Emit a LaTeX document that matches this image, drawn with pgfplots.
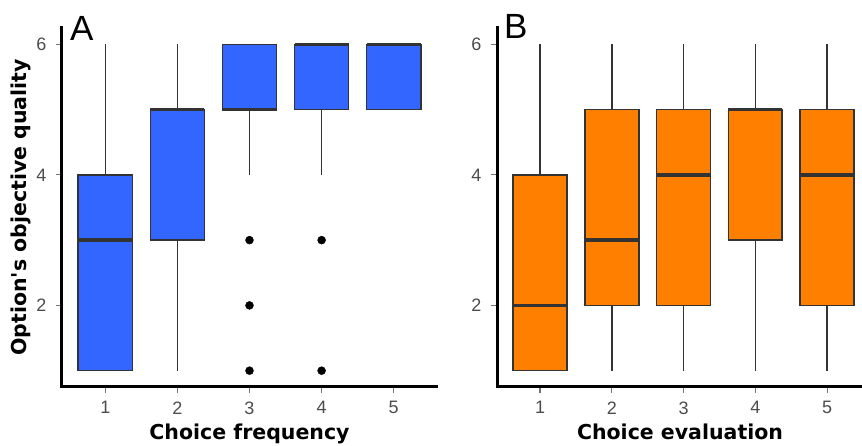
\documentclass[border=0pt]{standalone}
\usepackage{pgfplots}
\pgfplotsset{compat=1.18}
\usepgfplotslibrary{statistics}
\usepackage{fontspec}
\setmainfont{Liberation Sans}
\newfontfamily\djv{DejaVu Sans}
\definecolor{myblue}{HTML}{3366FF}
\definecolor{myorange}{HTML}{FF7F00}
\definecolor{boxgray}{HTML}{333333}
\newcommand{\ticksfont}{\fontsize{18}{20}\selectfont}
\newcommand{\titlefont}{\djv\bfseries\fontsize{20.5}{24}\selectfont}
\pgfplotsset{
  panel/.style={
    scale only axis, height=359pt,
    ymin=0.75, ymax=6.25, xmin=0.4,
    axis x line*=bottom, axis y line*=left,
    axis line style={-, line width=3pt, line cap=rect, black},
    xtick={1,2,3,4,5}, ytick={2,4,6},
    tick align=outside, major tick length=6pt,
    tick style={black!55, line width=1.2pt},
    xticklabel style={font=\ticksfont, text=black!70, yshift=-5pt},
    yticklabel style={font=\ticksfont, text=black!70, xshift=-6pt},
    /pgf/number format/assume math mode=true,
    xlabel style={font=\titlefont, at={(axis description cs:0.5,0)}, anchor=base, yshift=-53pt},
    ylabel style={font=\titlefont, at={(axis description cs:0,0.5)}, anchor=base, yshift=35pt},
    boxplot/draw direction=y,
    boxplot/box extend=0.75,
    boxplot/whisker extend=0,
    boxplot/every box/.style={line width=1.6pt},
    boxplot/every whisker/.style={line width=1.5pt},
    boxplot/every median/.style={line width=3.5pt},
  },
  bx/.style={line width=1.5pt, draw=boxgray, fill=#1},
}
\begin{document}
\begin{tikzpicture}
\useasboundingbox (-62pt,-59pt) rectangle (800pt,387pt);
\begin{axis}[panel, at={(0pt,0pt)}, anchor=south west, width=375pt, xmax=5.6,
  xlabel={Choice frequency}, ylabel={Option's objective quality}]
\addplot[bx=myblue, boxplot prepared={draw position=1, median=3, lower quartile=1, upper quartile=4, lower whisker=1, upper whisker=6}] coordinates {};
\addplot[bx=myblue, boxplot prepared={draw position=2, median=5, lower quartile=3, upper quartile=5, lower whisker=1, upper whisker=6}] coordinates {};
\addplot[bx=myblue, boxplot prepared={draw position=3, median=5, lower quartile=5, upper quartile=6, lower whisker=4, upper whisker=6}] coordinates {};
\addplot[bx=myblue, boxplot prepared={draw position=4, median=6, lower quartile=5, upper quartile=6, lower whisker=4, upper whisker=6}] coordinates {};
\addplot[bx=myblue, boxplot prepared={draw position=5, median=6, lower quartile=5, upper quartile=6, lower whisker=5, upper whisker=6}] coordinates {};
\addplot[only marks, mark=*, mark size=4pt, black] coordinates {(3,3) (3,2) (3,1) (4,3) (4,1)};
\end{axis}
\begin{axis}[panel, at={(435pt,0pt)}, anchor=south west, width=366pt, xmax=5.5,
  xlabel={Choice evaluation}]
\addplot[bx=myorange, boxplot prepared={draw position=1, median=2, lower quartile=1, upper quartile=4, lower whisker=1, upper whisker=6}] coordinates {};
\addplot[bx=myorange, boxplot prepared={draw position=2, median=3, lower quartile=2, upper quartile=5, lower whisker=1, upper whisker=6}] coordinates {};
\addplot[bx=myorange, boxplot prepared={draw position=3, median=4, lower quartile=2, upper quartile=5, lower whisker=1, upper whisker=6}] coordinates {};
\addplot[bx=myorange, boxplot prepared={draw position=4, median=5, lower quartile=3, upper quartile=5, lower whisker=1, upper whisker=6}] coordinates {};
\addplot[bx=myorange, boxplot prepared={draw position=5, median=4, lower quartile=2, upper quartile=5, lower whisker=1, upper whisker=6}] coordinates {};
\end{axis}
\node[anchor=base west, inner sep=0pt, font=\fontsize{35}{40}\selectfont] at (8pt,346pt) {A};
\node[anchor=base west, inner sep=0pt, font=\fontsize{35}{40}\selectfont] at (442pt,348pt) {B};
\end{tikzpicture}
\end{document}
